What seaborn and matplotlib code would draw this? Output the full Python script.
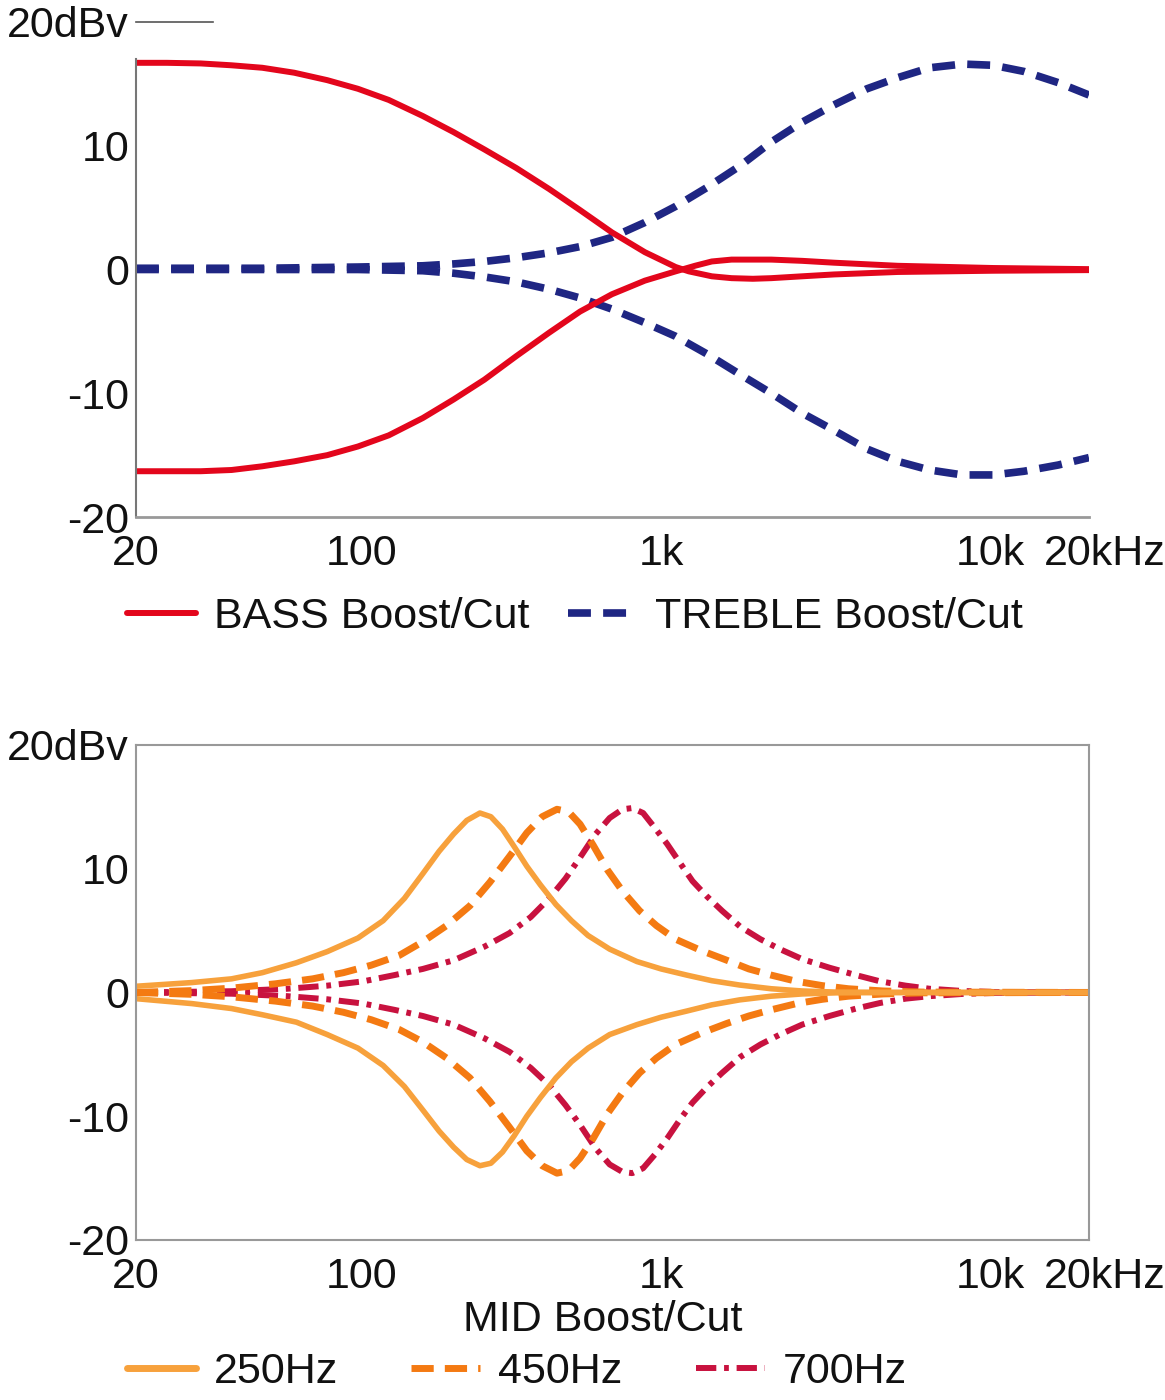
import matplotlib
matplotlib.use("Agg")
import matplotlib.pyplot as plt
import matplotlib.transforms as mtransforms
import seaborn as sns
import pandas as pd

# --- datos (Hz, dB) ---
bass_boost_f = [20, 25, 32, 40, 50, 63, 80, 100, 125, 160, 200, 250, 315, 400, 500, 630, 800, 1000,
                1100, 1300, 1500, 1750, 2000, 2500, 3150, 5000, 10000, 20000]
bass_boost_db = [16.7, 16.7, 16.65, 16.5, 16.3, 15.9, 15.3, 14.6, 13.7, 12.4, 11.1, 9.7, 8.2, 6.5, 4.8, 3.0, 1.4,
                 0.2, -0.15, -0.55, -0.7, -0.75, -0.7, -0.55, -0.4, -0.2, -0.1, -0.05]
bass_cut_f = [20, 25, 32, 40, 50, 63, 80, 100, 125, 160, 200, 250, 315, 400, 500, 630, 800, 1000,
              1150, 1300, 1500, 2000, 2500, 3150, 5000, 10000, 20000]
bass_cut_db = [-16.3, -16.3, -16.3, -16.2, -15.9, -15.5, -15.0, -14.3, -13.4, -12.0, -10.5, -8.9, -7.0, -5.1,
               -3.4, -2.0, -0.9, -0.15, 0.3, 0.65, 0.8, 0.8, 0.7, 0.55, 0.3, 0.12, 0.03]

treble_boost_f = [20, 50, 100, 160, 200, 250, 315, 400, 500, 630, 800, 1000, 1250, 1600, 2000, 2500, 3150,
                  4000, 5000, 6300, 8000, 10000, 12500, 16000, 20000]
treble_boost_db = [0.1, 0.1, 0.2, 0.3, 0.45, 0.65, 0.95, 1.35, 1.85, 2.6, 3.8, 5.1, 6.6, 8.4, 10.3, 11.9, 13.3,
                   14.6, 15.5, 16.3, 16.6, 16.5, 16.0, 15.1, 14.1]
treble_cut_f = [20, 100, 160, 200, 250, 315, 400, 500, 630, 800, 1000, 1250, 1600, 2000, 2500, 3150, 4000,
                5000, 6300, 8000, 10000, 12500, 16000, 20000]
treble_cut_db = [0.0, 0.0, -0.1, -0.3, -0.6, -1.0, -1.6, -2.3, -3.2, -4.3, -5.4, -6.8, -8.5, -10.0, -11.6,
                 -13.0, -14.5, -15.5, -16.2, -16.6, -16.6, -16.3, -15.8, -15.2]

mid250_f = [20, 30, 40, 50, 64, 80, 100, 120, 140, 160, 180, 200, 220, 242, 262, 285, 310, 340, 375, 420,
            470, 530, 620, 755, 900, 1085, 1300, 1590, 2000, 2500, 3200, 5000, 20000]
mid250_boost_db = [0.5, 0.8, 1.1, 1.6, 2.4, 3.3, 4.4, 5.8, 7.6, 9.6, 11.4, 12.8, 13.9, 14.5, 14.2, 13.2, 11.8,
                   10.2, 8.7, 7.1, 5.8, 4.6, 3.5, 2.5, 1.9, 1.4, 0.95, 0.6, 0.3, 0.12, 0.03, 0.0, 0.0]
mid250_cut_db = [-0.5, -0.9, -1.3, -1.8, -2.4, -3.4, -4.5, -5.9, -7.6, -9.5, -11.2, -12.5, -13.5, -14.0, -13.8,
                 -12.9, -11.6, -10.0, -8.5, -6.9, -5.6, -4.5, -3.4, -2.6, -2.0, -1.5, -1.0, -0.6, -0.3, -0.12,
                 -0.03, 0.0, 0.0]

mid450_f = [20, 30, 40, 55, 72, 90, 110, 135, 160, 190, 225, 260, 300, 340, 380, 423, 460, 500, 550, 610,
            680, 770, 870, 1000, 1200, 1450, 1700, 2000, 2400, 2900, 3500, 4500, 6000, 20000]
mid450_boost_db = [0.0, 0.15, 0.35, 0.7, 1.1, 1.6, 2.2, 3.0, 4.1, 5.4, 7.0, 8.9, 11.0, 12.9, 14.2, 14.8, 14.6,
                   13.6, 11.9, 9.9, 8.2, 6.6, 5.4, 4.3, 3.4, 2.6, 1.9, 1.4, 0.9, 0.55, 0.3, 0.12, 0.03, 0.0]
mid450_cut_db = [0.0, -0.15, -0.35, -0.7, -1.1, -1.6, -2.2, -3.0, -4.0, -5.3, -6.9, -8.8, -10.9, -12.8, -14.0,
                 -14.6, -14.4, -13.4, -11.8, -9.8, -8.1, -6.5, -5.3, -4.2, -3.3, -2.5, -1.9, -1.4, -0.9, -0.55,
                 -0.3, -0.12, -0.03, 0.0]

mid700_f = [20, 40, 60, 80, 104, 130, 160, 200, 250, 300, 350, 400, 450, 500, 560, 620, 680, 730, 790, 860,
            940, 1030, 1130, 1250, 1400, 1600, 1850, 2130, 2500, 3050, 3700, 4400, 5300, 6300, 8000, 10000, 20000]
mid700_boost_db = [0.0, 0.1, 0.3, 0.55, 0.9, 1.4, 1.9, 2.6, 3.7, 4.8, 6.1, 7.6, 9.2, 10.9, 12.8, 14.1, 14.8, 14.9,
                   14.5, 13.3, 12.0, 10.5, 9.0, 7.8, 6.6, 5.3, 4.3, 3.5, 2.7, 2.0, 1.4, 0.9, 0.55, 0.3, 0.12,
                   0.04, 0.0]
mid700_cut_db = [0.0, -0.1, -0.3, -0.55, -0.9, -1.4, -1.9, -2.6, -3.7, -4.8, -6.1, -7.5, -9.1, -10.7, -12.6,
                 -13.9, -14.5, -14.6, -14.2, -13.1, -11.8, -10.3, -8.9, -7.7, -6.5, -5.2, -4.2, -3.4, -2.6,
                 -1.9, -1.3, -0.85, -0.5, -0.3, -0.12, -0.04, 0.0]

x_ticks = [20, 100, 1000, 10000, 20000]
x_labels = ['20', '100', '1k', '10k', '20kHz']
y_ticks = [-20, -10, 0, 10, 20]
y_labels = ['-20', '-10', '0', '10', '20dBv']

sns.set_theme(style='white')
plt.rcParams['font.family'] = ['Liberation Sans', 'DejaVu Sans']

FS = 31
ROJO = '#e3061c'
AZUL = '#1f2683'
NARANJA_CLARO = '#f7a13c'
NARANJA = '#f47a12'
CARMESI = '#c8123f'
RAYA = (0, (3, 1.6))
RAYA_NAR = (0, (3.2, 1.6))
RAYA_PUNTO = (0, (3.4, 1.3, 0.8, 1.3))

fig = plt.figure(figsize=(11.65, 14), dpi=100)
ax1 = fig.add_axes([0.1167, 0.6307, 0.8180, 0.3536])
ax2 = fig.add_axes([0.1167, 0.1143, 0.8180, 0.3536])


def preparar_ejes(ax):
    ax.set_xscale('log')
    ax.set_xlim(20, 20000)
    ax.set_ylim(-20, 20)
    ax.set_xticks(x_ticks)
    ax.set_xticklabels(x_labels)
    ax.minorticks_off()
    ax.set_yticks(y_ticks)
    ax.set_yticklabels(y_labels)
    ax.tick_params(axis='both', length=0, labelsize=FS, colors='#111111')
    ax.tick_params(axis='x', pad=12)
    ax.tick_params(axis='y', pad=5)
    ax.set_xlabel('')
    ax.set_ylabel('')
    ax.grid(False)
    # desplazar un poco las etiquetas como en el original
    for lab, dx in zip(ax.get_xticklabels(), [0, 4, -14, -3, 16]):
        lab.set_transform(lab.get_transform() + mtransforms.ScaledTranslation(dx / 100, 0, fig.dpi_scale_trans))


def curva(ax, f, db, color, lw, ls):
    df = pd.DataFrame({'f': f, 'db': db})
    sns.lineplot(data=df, x='f', y='db', ax=ax, color=color, lw=lw, linestyle=ls,
                 estimator=None, sort=False, legend=False)


# --- gráfico superior: graves / agudos ---
curva(ax1, treble_boost_f, treble_boost_db, AZUL, 5.5, RAYA)
curva(ax1, treble_cut_f, treble_cut_db, AZUL, 5.5, RAYA)
curva(ax1, bass_boost_f, bass_boost_db, ROJO, 4.3, '-')
curva(ax1, bass_cut_f, bass_cut_db, ROJO, 4.3, '-')
preparar_ejes(ax1)
ax1.spines['right'].set_visible(False)
ax1.spines['top'].set_bounds(20, 35)
ax1.spines['top'].set_color('#555555')
ax1.spines['top'].set_linewidth(1.2)
ax1.spines['left'].set_bounds(-20, 17)
ax1.spines['left'].set_color('#777777')
ax1.spines['left'].set_linewidth(1.5)
ax1.spines['bottom'].set_color('#999999')
ax1.spines['bottom'].set_linewidth(2)

h_bass, = ax1.plot([], [], color=ROJO, lw=4.3, label='BASS Boost/Cut')
h_treble, = ax1.plot([], [], color=AZUL, lw=5.5, linestyle=RAYA, label='TREBLE Boost/Cut')
fig.legend(handles=[h_bass, h_treble], loc='center left', bbox_to_anchor=(0.109, 0.559), ncol=2,
           frameon=False, fontsize=FS, handlelength=1.6, handletextpad=0.42, columnspacing=0.9,
           borderpad=0, borderaxespad=0, labelcolor='#111111')

# --- gráfico inferior: medios ---
curva(ax2, mid700_f, mid700_boost_db, CARMESI, 4.3, RAYA_PUNTO)
curva(ax2, mid700_f, mid700_cut_db, CARMESI, 4.3, RAYA_PUNTO)
curva(ax2, mid450_f, mid450_boost_db, NARANJA, 5, RAYA_NAR)
curva(ax2, mid450_f, mid450_cut_db, NARANJA, 5, RAYA_NAR)
curva(ax2, mid250_f, mid250_boost_db, NARANJA_CLARO, 4, '-')
curva(ax2, mid250_f, mid250_cut_db, NARANJA_CLARO, 4, '-')
preparar_ejes(ax2)
for s in ['top', 'right', 'left', 'bottom']:
    ax2.spines[s].set_visible(True)
    ax2.spines[s].set_color('#999999')
    ax2.spines[s].set_linewidth(1.5)

fig.text(0.5176, 0.057, 'MID Boost/Cut', ha='center', va='center', fontsize=FS, color='#111111')

h250, = ax2.plot([], [], color=NARANJA_CLARO, lw=5, label='250Hz')
h450, = ax2.plot([], [], color=NARANJA, lw=5, linestyle=RAYA_NAR, label='450Hz')
h700, = ax2.plot([], [], color=CARMESI, lw=4.3, linestyle=RAYA_PUNTO, label='700Hz')
fig.legend(handles=[h250, h450, h700], loc='center left', bbox_to_anchor=(0.109, 0.02), ncol=3,
           frameon=False, fontsize=FS, handlelength=1.6, handletextpad=0.42, columnspacing=1.7,
           borderpad=0, borderaxespad=0, labelcolor='#111111')

fig.savefig('out.png', dpi=100, facecolor='white')
